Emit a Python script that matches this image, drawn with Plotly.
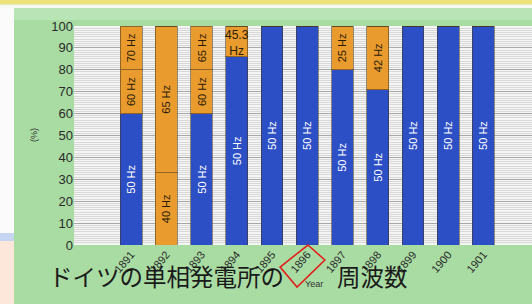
import plotly.graph_objects as go

# ---------------- data ----------------
years = [1891, 1892, 1893, 1894, 1895, 1896, 1897, 1898, 1899, 1900, 1901]
year_labels = [str(y) for y in years]

# stacked segments (share in %), bottom -> top, with the frequency of each segment
seg1_share = [60, 33, 60, 86, 100, 100, 80, 71, 100, 100, 100]
seg1_freq = [50, 40, 50, 50, 50, 50, 50, 50, 50, 50, 50]
seg2_share = [20, 67, 20, 14, 0, 0, 20, 29, 0, 0, 0]
seg2_freq = [60, 65, 60, 45.3, None, None, 25, 42, None, None, None]
seg3_share = [20, 0, 20, 0, 0, 0, 0, 0, 0, 0, 0]
seg3_freq = [70, None, 65, None, None, None, None, None, None, None, None]

highlight_year = 1896
y_ticks = list(range(0, 101, 10))

# ---------------- layout helpers ----------------
W, H = 532, 304
L, R, T, B = 74, 0, 26, 59
PW, PH = W - L - R, H - T - B


def px(x):
    return (x - L) / PW


def py(y):
    return (H - B - y) / PH


BLUE = "#2c4fc6"
ORANGE = "#e99b2e"


def colors(freqs):
    return [BLUE if f == 50 else ORANGE for f in freqs]


def labels(freqs, skip=()):
    out = []
    for f in freqs:
        if f is None or f in skip:
            out.append("")
        else:
            out.append(f"{f:g} Hz")
    return out


def text_colors(freqs):
    return ["white" if f == 50 else "#2a1c08" for f in freqs]


fig = go.Figure()
for share, freq, skip in [
    (seg1_share, seg1_freq, ()),
    (seg2_share, seg2_freq, (45.3,)),
    (seg3_share, seg3_freq, ()),
]:
    fig.add_trace(
        go.Bar(
            x=years,
            y=share,
            width=0.62,
            marker=dict(color=colors(freq), line=dict(color="rgba(70,55,30,0.55)", width=1)),
            text=labels(freq, skip),
            textposition="inside",
            insidetextanchor="middle",
            textangle=-90,
            constraintext="none",
            insidetextfont=dict(family="Liberation Sans, Arial", size=11, color=text_colors(freq)),
            hoverinfo="skip",
            showlegend=False,
        )
    )

# short segment label written horizontally at the top of the bar
for yr, f in zip(years, seg2_freq):
    if f == 45.3:
        fig.add_annotation(
            x=yr, y=100, xref="x", yref="y", text=f"{f:g}<br>Hz", showarrow=False,
            yanchor="top", font=dict(family="Liberation Sans, Arial", size=12, color="#2a1c08"),
        )

shapes = [
    # yellow band at very top
    dict(type="rect", xref="paper", yref="paper", x0=px(0), x1=px(W + 2), y0=py(0), y1=py(4.5),
         fillcolor="#efe27a", line=dict(width=0), layer="below"),
    dict(type="rect", xref="paper", yref="paper", x0=px(0), x1=px(W + 2), y0=py(4.5), y1=py(8),
         fillcolor="#f8f8f2", line=dict(width=0), layer="below"),
    # lighter strip at top of green area
    dict(type="rect", xref="paper", yref="paper", x0=px(14), x1=px(W + 2), y0=py(8), y1=py(20),
         fillcolor="#b9e4b6", line=dict(width=0), layer="below"),
    # left strip: white, blue band, peach
    dict(type="rect", xref="paper", yref="paper", x0=px(0), x1=px(14), y0=py(8), y1=py(233),
         fillcolor="#fbfbfb", line=dict(width=0), layer="below"),
    dict(type="rect", xref="paper", yref="paper", x0=px(0), x1=px(14), y0=py(233), y1=py(241),
         fillcolor="#c6d6f2", line=dict(width=0), layer="below"),
    dict(type="rect", xref="paper", yref="paper", x0=px(0), x1=px(14), y0=py(241), y1=py(H + 2),
         fillcolor="#fde6da", line=dict(width=0), layer="below"),
]

# red box around the highlighted year label
hx = highlight_year
box = [(hx + 0.02, py(245)), (hx + 0.50, py(260)), (hx - 0.29, py(287)), (hx - 0.77, py(267))]
path = "M " + " L ".join(f"{a},{b}" for a, b in box) + " Z"
shapes.append(dict(type="path", xref="x", yref="paper", path=path,
                   line=dict(color="#e0201c", width=1.6), fillcolor="rgba(0,0,0,0)", layer="above"))

fig.update_layout(
    width=W, height=H,
    margin=dict(l=L, r=R, t=T, b=B, pad=0, autoexpand=False),
    paper_bgcolor="#a9dca3",
    plot_bgcolor="#f5f5f5",
    barmode="stack",
    shapes=shapes,
    xaxis=dict(
        range=[1889.38, 1902.38], automargin=False,
        tickmode="array", tickvals=years, ticktext=year_labels,
        tickangle=-50, showgrid=False, zeroline=False, showline=False,
        ticks="", tickfont=dict(family="Liberation Sans, Arial", size=11, color="#2a2a2a"),
    ),
    yaxis=dict(
        range=[0, 100], tickmode="array", tickvals=y_ticks, automargin=False,
        showgrid=True, gridcolor="#a8a8a8", gridwidth=1,
        minor=dict(dtick=1, showgrid=True, gridcolor="#d8d8d8", gridwidth=1),
        zeroline=False, showline=False, ticks="",
        tickfont=dict(family="Liberation Sans, Arial", size=13, color="#2a2a2a"),
    ),
)

fig.add_annotation(x=px(27), y=py(135), xref="paper", yref="paper", text="(%)", textangle=-90,
                   showarrow=False, font=dict(family="Liberation Sans, Arial", size=9, color="#333"))
fig.add_annotation(x=px(303), y=py(291), xref="paper", yref="paper", text="Year", xanchor="left",
                   showarrow=False, font=dict(family="Liberation Sans, Arial", size=9, color="#333"))
fig.add_annotation(x=px(47), y=py(295), xref="paper", yref="paper", text="ドイツの単相発電所の",
                   xanchor="left", showarrow=False,
                   font=dict(family="Noto Sans CJK JP", size=23.5, color="#1a1a1a"))
fig.add_annotation(x=px(335), y=py(295), xref="paper", yref="paper", text="周波数",
                   xanchor="left", showarrow=False,
                   font=dict(family="Noto Sans CJK JP", size=23.5, color="#1a1a1a"))

fig.write_html("out.html", config={"displayModeBar": False},
               post_script="document.body.style.margin='0';")
